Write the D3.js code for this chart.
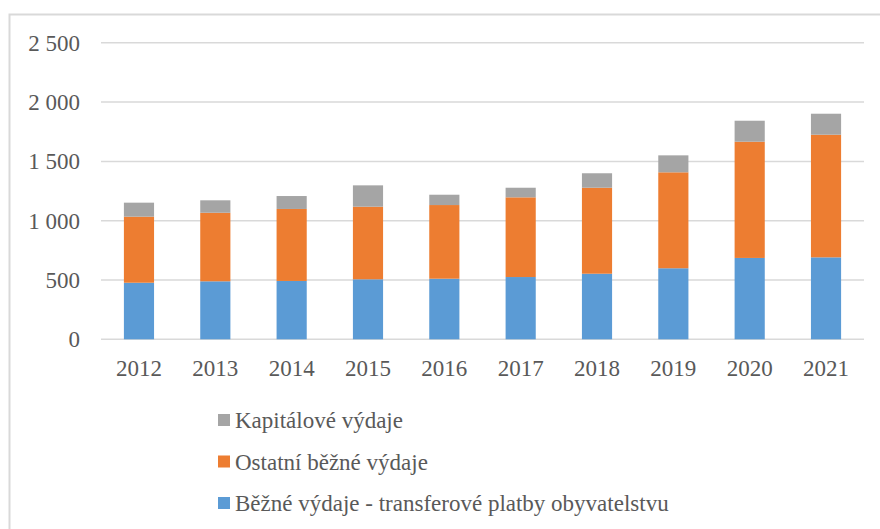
<!DOCTYPE html>
<html>
<head>
<meta charset="utf-8">
<script src="https://cdn.jsdelivr.net/npm/d3@7"></script>
<style>
  body { margin: 0; background: #fff; }
  svg { display: block; }
</style>
</head>
<body>
<div id="chart"></div>
<script>
// chart data
var years = ['2012', '2013', '2014', '2015', '2016', '2017', '2018', '2019', '2020', '2021']
var transfery = [477, 489, 492, 506, 511, 525, 553, 599, 686, 691]
var ostatniBezne = [557, 578, 607, 612, 621, 672, 725, 809, 980, 1034]
var kapitalove = [118, 105, 109, 180, 87, 81, 122, 143, 177, 177]
var seriesNames = ['Běžné výdaje - transferové platby obyvatelstvu', 'Ostatní běžné výdaje', 'Kapitálové výdaje']
var seriesColors = ['#5b9bd5', '#ed7d31', '#a5a5a5']
var yTicks = [0, 500, 1000, 1500, 2000, 2500]

var width = 880
var height = 529
var margin = { left: 101, right: 16, top: 43, bottom: 190 }

var svg = d3.select('#chart')
  .append('svg')
  .attr('width', width)
  .attr('height', height)
  .style('font-family', '"Liberation Serif", "Times New Roman", serif')

// outer frame (only top and left visible)
svg.append('path')
  .attr('d', 'M9.5,' + height + ' V14.5 H' + width)
  .attr('fill', 'none')
  .attr('stroke', '#d9d9d9')
  .attr('stroke-width', 2)

var x = d3.scaleBand()
  .domain(years)
  .range([margin.left, 864])
  .paddingInner(0.605)
  .paddingOuter(0.3)

var y = d3.scaleLinear()
  .domain([0, 2500])
  .range([339.3, 42.8])

// gridlines
svg.append('g')
  .selectAll('line')
  .data(yTicks)
  .enter()
  .append('line')
  .attr('x1', margin.left)
  .attr('x2', 864)
  .attr('y1', function (d) { return y(d) })
  .attr('y2', function (d) { return y(d) })
  .attr('stroke', '#d9d9d9')
  .attr('stroke-width', 1.5)

var fmt = function (v) { return d3.format(',')(v).replace(/,/g, ' ') }

// y tick labels
svg.append('g')
  .selectAll('text')
  .data(yTicks)
  .enter()
  .append('text')
  .attr('x', 80)
  .attr('y', function (d) { return y(d) })
  .attr('dy', '0.35em')
  .attr('text-anchor', 'end')
  .attr('font-size', '23px')
  .attr('fill', '#595959')
  .text(fmt)

// stacked bars
var rows = years.map(function (yr, i) {
  return { year: yr, a: transfery[i], b: ostatniBezne[i], c: kapitalove[i] }
})
var stack = d3.stack().keys(['a', 'b', 'c'])
var layers = stack(rows)

svg.append('g')
  .selectAll('g')
  .data(layers)
  .enter()
  .append('g')
  .attr('fill', function (d, i) { return seriesColors[i] })
  .selectAll('rect')
  .data(function (d) { return d })
  .enter()
  .append('rect')
  .attr('x', function (d) { return x(d.data.year) })
  .attr('width', x.bandwidth())
  .attr('y', function (d) { return y(d[1]) })
  .attr('height', function (d) { return y(d[0]) - y(d[1]) })

// x labels
svg.append('g')
  .selectAll('text')
  .data(years)
  .enter()
  .append('text')
  .attr('x', function (d) { return x(d) + x.bandwidth() / 2 })
  .attr('y', 376)
  .attr('text-anchor', 'middle')
  .attr('font-size', '23px')
  .attr('fill', '#595959')
  .text(function (d) { return d })

// legend, reversed order like the original
var legendOrder = [2, 1, 0]
var legend = svg.append('g')
  .selectAll('g')
  .data(legendOrder)
  .enter()
  .append('g')
  .attr('transform', function (d, i) { return 'translate(218,' + (420 + i * 41.5) + ')' })

legend.append('rect')
  .attr('x', 0)
  .attr('y', -6)
  .attr('width', 12)
  .attr('height', 12)
  .attr('fill', function (d) { return seriesColors[d] })

legend.append('text')
  .attr('x', 17)
  .attr('y', 0)
  .attr('dy', '0.35em')
  .attr('font-size', '23px')
  .attr('fill', '#595959')
  .text(function (d) { return seriesNames[d] })
</script>
</body>
</html>
